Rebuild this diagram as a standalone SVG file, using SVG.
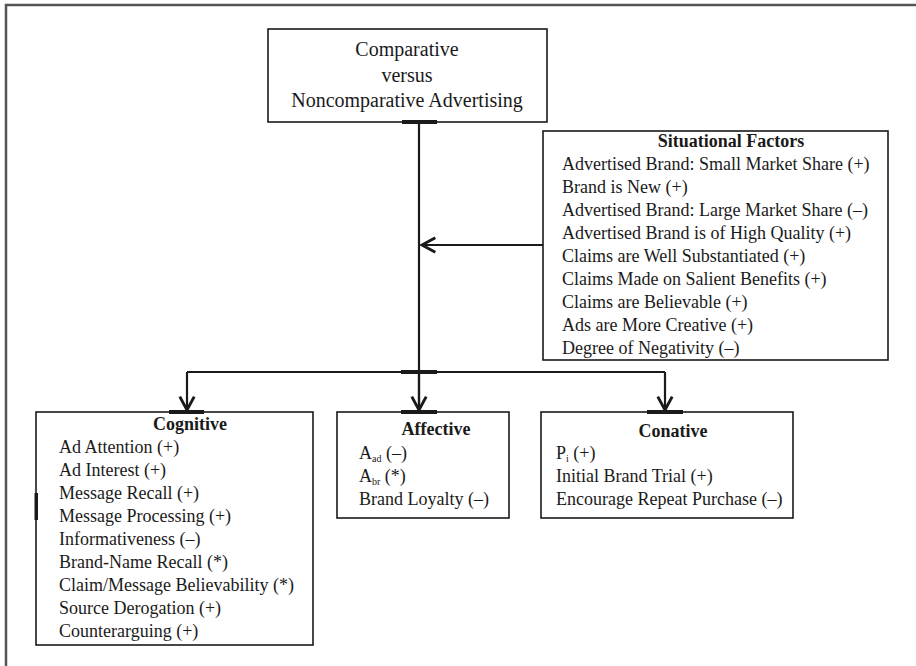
<svg xmlns="http://www.w3.org/2000/svg" width="916" height="666" viewBox="0 0 916 666">
  <defs>
    <marker id="chev" markerUnits="userSpaceOnUse" markerWidth="20" markerHeight="20" viewBox="-14 -9 18 18" refX="0" refY="0" orient="auto">
      <path d="M-12,-6.5 L0,0 L-12,6.5" fill="none" stroke="#1a1a1a" stroke-width="2.6"/>
    </marker>
  </defs>
  <style>
    text { font-family: "Liberation Serif", "Times New Roman", serif; fill: #1a1a1a; }
    .t20 { font-size: 20px; }
    .t18 { font-size: 18px; }
    .hd { font-size: 18px; font-weight: bold; }
    .sub { font-size: 10px; }
    .box { fill: #fff; stroke: #1a1a1a; stroke-width: 1.6; }
    .ln { fill: none; stroke: #1a1a1a; stroke-width: 2.2; }
    .stub { fill: #1a1a1a; }
    .frame { fill: none; stroke: #555; stroke-width: 2.5; }
  </style>
  <rect width="916" height="666" fill="#fff"/>
  <path class="frame" d="M6,666 L6,5 L916,5"/>

  <g id="connectors">
    <line class="ln" x1="419" y1="122" x2="419" y2="410"/>
    <line class="ln" x1="543" y1="245" x2="422" y2="245" marker-end="url(#chev)"/>
    <line class="ln" x1="187" y1="372" x2="665" y2="372"/>
    <line class="ln" x1="187" y1="372" x2="187" y2="410" marker-end="url(#chev)"/>
    <line class="ln" x1="419" y1="372" x2="419" y2="410" marker-end="url(#chev)"/>
    <line class="ln" x1="665" y1="372" x2="665" y2="410" marker-end="url(#chev)"/>
    <rect class="stub" x="401" y="370" width="36" height="4"/>
  </g>

  <g id="top">
    <rect class="box" x="268" y="29" width="279" height="93"/>
    <rect class="stub" x="402" y="120" width="35" height="4"/>
    <text class="t20" x="407" y="56" text-anchor="middle">Comparative</text>
    <text class="t20" x="407" y="82" text-anchor="middle">versus</text>
    <text class="t20" x="407" y="107" text-anchor="middle">Noncomparative Advertising</text>
  </g>

  <g id="situational">
    <rect class="box" x="543" y="131" width="345" height="229"/>
    <text class="hd" x="731" y="147" text-anchor="middle">Situational Factors</text>
    <text class="t18" x="562" y="170">Advertised Brand: Small Market Share (+)</text>
    <text class="t18" x="562" y="193">Brand is New (+)</text>
    <text class="t18" x="562" y="216">Advertised Brand: Large Market Share (–)</text>
    <text class="t18" x="562" y="239">Advertised Brand is of High Quality (+)</text>
    <text class="t18" x="562" y="262">Claims are Well Substantiated (+)</text>
    <text class="t18" x="562" y="285">Claims Made on Salient Benefits (+)</text>
    <text class="t18" x="562" y="308">Claims are Believable (+)</text>
    <text class="t18" x="562" y="331">Ads are More Creative (+)</text>
    <text class="t18" x="562" y="354">Degree of Negativity (–)</text>
  </g>

  <g id="cognitive">
    <rect class="box" x="36" y="412" width="277" height="233"/>
    <rect class="stub" x="169" y="410" width="35" height="4"/>
    <rect class="stub" x="34.5" y="493" width="3.5" height="27"/>
    <text class="hd" x="190" y="430" text-anchor="middle">Cognitive</text>
    <text class="t18" x="59" y="453">Ad Attention (+)</text>
    <text class="t18" x="59" y="476">Ad Interest (+)</text>
    <text class="t18" x="59" y="499">Message Recall (+)</text>
    <text class="t18" x="59" y="522">Message Processing (+)</text>
    <text class="t18" x="59" y="545">Informativeness (–)</text>
    <text class="t18" x="59" y="568">Brand-Name Recall (*)</text>
    <text class="t18" x="59" y="591">Claim/Message Believability (*)</text>
    <text class="t18" x="59" y="614">Source Derogation (+)</text>
    <text class="t18" x="59" y="637">Counterarguing (+)</text>
  </g>

  <g id="affective">
    <rect class="box" x="337" y="412" width="172" height="106"/>
    <rect class="stub" x="401" y="410" width="36" height="4"/>
    <text class="hd" x="436" y="435" text-anchor="middle">Affective</text>
    <text class="t18" x="359" y="459">A<tspan class="sub" dy="3">ad</tspan><tspan dy="-3"> (–)</tspan></text>
    <text class="t18" x="359" y="482">A<tspan class="sub" dy="3">br</tspan><tspan dy="-3"> (*)</tspan></text>
    <text class="t18" x="359" y="505">Brand Loyalty (–)</text>
  </g>

  <g id="conative">
    <rect class="box" x="541" y="412" width="252" height="106"/>
    <rect class="stub" x="647" y="410" width="36" height="4"/>
    <text class="hd" x="673" y="437" text-anchor="middle">Conative</text>
    <text class="t18" x="556" y="459">P<tspan class="sub" dy="3">i</tspan><tspan dy="-3"> (+)</tspan></text>
    <text class="t18" x="556" y="482">Initial Brand Trial (+)</text>
    <text class="t18" x="556" y="505">Encourage Repeat Purchase (–)</text>
  </g>
</svg>
